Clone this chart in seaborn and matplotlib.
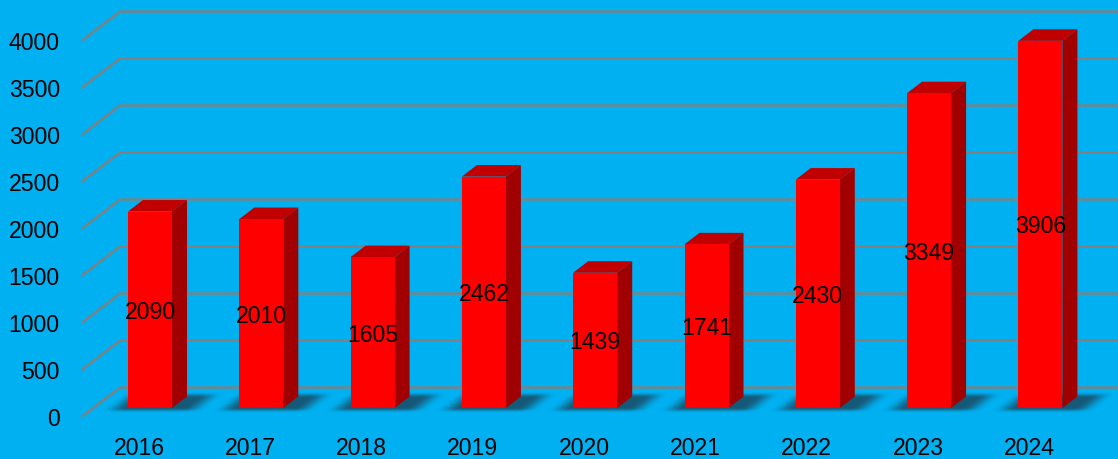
import matplotlib
matplotlib.use("Agg")
import matplotlib.pyplot as plt
from matplotlib.colors import to_rgb
from matplotlib.patches import Polygon
from matplotlib.transforms import ScaledTranslation
import numpy as np
import pandas as pd
import seaborn as sns

years = ['2016', '2017', '2018', '2019', '2020', '2021', '2022', '2023', '2024']
values = [2090, 2010, 1605, 2462, 1439, 1741, 2430, 3349, 3906]
y_ticks = [0, 500, 1000, 1500, 2000, 2500, 3000, 3500, 4000]

BG = '#00B0F0'
RED = '#FF0000'
RED_TOP = '#C00000'
RED_SIDE = '#A00000'
GRID = '#808080'
SHADOW = '#1A4A63'
FONT_SIZE = 16.6

# scale of the picture
W, H = 1118, 460
PX_PER_CAT = 111.3
PX_PER_UNIT = 0.094
X0_PX, Y0_PX = 150, 409       # where category 0 / value 0 sit
AX_LEFT, AX_BOTTOM = 66, 432
DEPTH_X, DEPTH_Y = 15, 11.5   # fake 3d depth in pixels

sns.set_theme(style='white')
plt.rcParams['font.family'] = ['Liberation Sans', 'DejaVu Sans']

fig = plt.figure(figsize=(W / 100, H / 100), dpi=100, facecolor=BG)
ax = fig.add_axes([AX_LEFT / W, 1 - AX_BOTTOM / H, 1 - AX_LEFT / W, AX_BOTTOM / H], facecolor=BG)

df = pd.DataFrame({'year': years, 'value': values})
sns.barplot(data=df, x='year', y='value', color=RED, saturation=1, width=44 / PX_PER_CAT,
            linewidth=0, ax=ax, zorder=5)

ax.set_xlim((AX_LEFT - X0_PX) / PX_PER_CAT, (W - X0_PX) / PX_PER_CAT)
ax.set_ylim((Y0_PX - AX_BOTTOM) / PX_PER_UNIT, Y0_PX / PX_PER_UNIT)
ax.set_xlabel('')
ax.set_ylabel('')
ax.set_yticks(y_ticks)
sns.despine(ax=ax, left=True, bottom=True)
ax.grid(False)
ax.tick_params(axis='both', length=0, labelsize=FONT_SIZE, labelcolor='black')
ax.tick_params(axis='y', pad=4.5)
ax.tick_params(axis='x', pad=3.5)

dx = DEPTH_X / PX_PER_CAT
dy = DEPTH_Y / PX_PER_UNIT


def px_x(px):
    return (px - X0_PX) / PX_PER_CAT


def px_y(px):
    return (Y0_PX - px) / PX_PER_UNIT


def smooth(t):
    t = np.clip(t, 0, 1)
    return t * t * (3 - 2 * t)


def draw_shadow(x0, x1):
    # blurred parallelogram on the floor under one bar, worked out in pixels
    left = X0_PX + x0 * PX_PER_CAT
    right = X0_PX + x1 * PX_PER_CAT
    xs = np.arange(left - 40, right + DEPTH_X + 40)
    ts = np.arange(-8.0, 20.0, 0.5)     # height above the front floor line
    X, T = np.meshgrid(xs, ts)
    U = X - T * DEPTH_X / DEPTH_Y
    blur_x = 24
    across = smooth((U - (left - blur_x)) / blur_x) * smooth(((right + 12 + blur_x) - U) / blur_x)
    along = smooth((T + 5) / 5) * smooth((16 - T) / 6)
    rgba = np.zeros(X.shape + (4,))
    rgba[..., :3] = to_rgb(SHADOW)
    rgba[..., 3] = 0.85 * across * along
    extent = [px_x(xs[0]), px_x(xs[-1]), px_y(Y0_PX - ts[0]), px_y(Y0_PX - ts[-1])]
    ax.imshow(rgba, extent=extent, origin='lower', aspect='auto', zorder=2, interpolation='bilinear')


# back wall lines, each one bends at the left wall
wall_front = px_x(82)
wall_back = px_x(120)
for v in y_ticks:
    y_front = v + px_y(417.5)
    y_back = v + px_y(388.5)
    ax.plot([wall_front, wall_back, ax.get_xlim()[1]], [y_front, y_back, y_back],
            color=GRID, lw=1.7, zorder=1, solid_joinstyle='miter')

for bar, v in zip(ax.patches, values):
    x0 = bar.get_x()
    x1 = x0 + bar.get_width()
    h = bar.get_height()

    draw_shadow(x0, x1)

    ax.add_patch(Polygon([(x1, 0), (x1 + dx, dy), (x1 + dx, h + dy), (x1, h)],
                         closed=True, facecolor=RED_SIDE, edgecolor='none', zorder=4))
    ax.add_patch(Polygon([(x0, h), (x0 + dx, h + dy), (x1 + dx, h + dy), (x1, h)],
                         closed=True, facecolor=RED_TOP, edgecolor='none', zorder=4))

    ax.text(x0 + bar.get_width() / 2, h / 2 - 1.5 / PX_PER_UNIT, str(v), ha='center', va='center',
            fontsize=FONT_SIZE, color='black', zorder=6)

# tick labels sit on the front edge, not on the bars' own plane
for lab in ax.get_yticklabels():
    lab.set_transform(lab.get_transform() + ScaledTranslation(0, -8.5 / 100, fig.dpi_scale_trans))
for lab in ax.get_xticklabels():
    lab.set_transform(lab.get_transform() + ScaledTranslation(-11 / 100, 0, fig.dpi_scale_trans))

fig.savefig('out.png', dpi=100, facecolor=BG)
